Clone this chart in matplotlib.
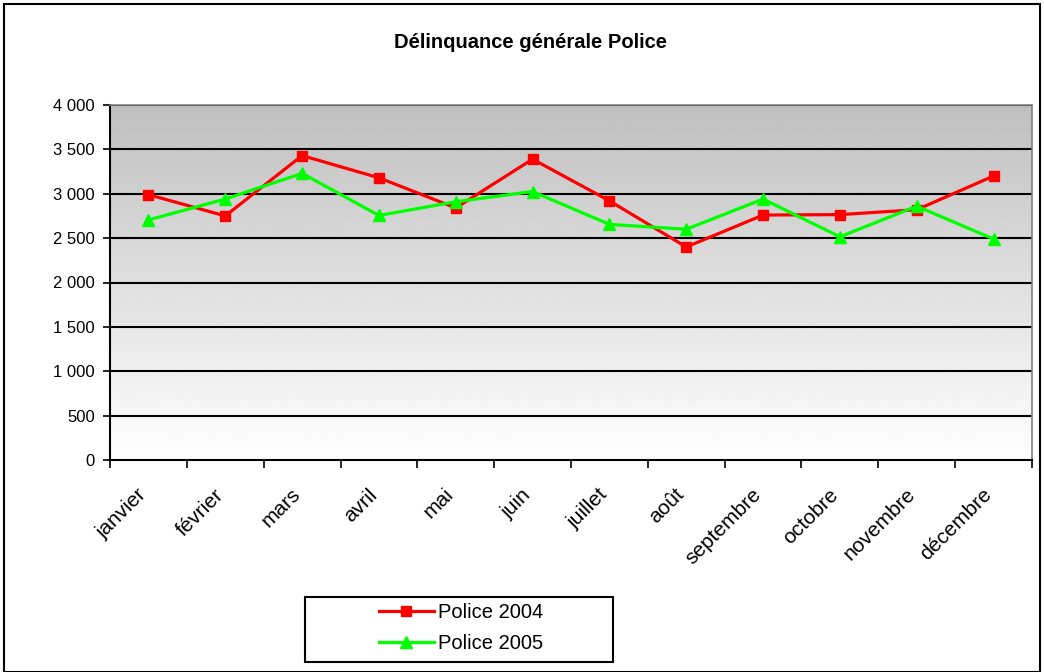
import numpy as np
import matplotlib
matplotlib.use("Agg")
import matplotlib.pyplot as plt
from matplotlib.patches import Rectangle
from matplotlib.ticker import FuncFormatter

months = ["janvier", "février", "mars", "avril", "mai", "juin", "juillet",
          "août", "septembre", "octobre", "novembre", "décembre"]
police_2004 = [2990, 2750, 3430, 3180, 2840, 3390, 2920, 2400, 2760, 2765, 2820, 3200]
police_2005 = [2705, 2940, 3230, 2755, 2910, 3025, 2655, 2600, 2940, 2515, 2860, 2490]
y_ticks = [0, 500, 1000, 1500, 2000, 2500, 3000, 3500, 4000]

plt.rcParams['font.family'] = ['Liberation Sans', 'DejaVu Sans']

fig = plt.figure(figsize=(10.44, 6.72), dpi=100)
ax = fig.add_axes([110 / 1044, 1 - 460 / 672, 922 / 1044, 355 / 672])

x = np.arange(len(months))
ax.set_xlim(-0.5, len(months) - 0.5)
ax.set_ylim(0, 4000)

# gradient background, grey at top, white at bottom
grad = np.linspace(1.0, 0.75, 256).reshape(-1, 1)
ax.imshow(grad, cmap="gray", vmin=0, vmax=1, aspect="auto",
          extent=(-0.5, len(months) - 0.5, 0, 4000), origin="lower", zorder=0)

for v in y_ticks[1:]:
    ax.axhline(v, color="black", lw=1.5, zorder=1)

ax.plot(x, police_2004, color="#ff0000", lw=2.3, marker="s", markersize=7.5,
        label="Police 2004", zorder=3)
ax.plot(x, police_2005, color="#00ff00", lw=2.3, marker="^", markersize=8,
        label="Police 2005", zorder=3)

ax.set_yticks(y_ticks)
ax.yaxis.set_major_formatter(FuncFormatter(lambda v, p: f"{int(v):,}".replace(",", " ")))
ax.tick_params(axis="y", labelsize=12, length=5, width=1.2, direction="out", pad=6)

ax.set_xticks(np.arange(-0.5, len(months), 1.0))
ax.set_xticklabels([])
ax.tick_params(axis="x", which="major", length=6, width=1.2, direction="out")
ax.set_xticks(x - 0.15, minor=True)
ax.set_xticklabels(months, minor=True, rotation=45, ha="right", va="top",
                   rotation_mode="anchor", fontsize=15)
ax.tick_params(axis="x", which="minor", length=0, pad=18)

for side in ["left", "bottom"]:
    ax.spines[side].set_color("black")
    ax.spines[side].set_linewidth(1.5)
for side in ["top", "right"]:
    ax.spines[side].set_color("#808080")
    ax.spines[side].set_linewidth(1.2)

fig.text(531 / 1044, 1 - 42 / 672, "Délinquance générale Police", ha="center",
         va="center", fontsize=14.5, fontweight="bold")

leg = fig.legend(loc="center", bbox_to_anchor=(461 / 1044, 1 - 628 / 672),
                 fontsize=14.5, frameon=False, handlelength=2.7, handletextpad=0.2,
                 labelspacing=0.6)
fig.patches.append(Rectangle((305 / 1044, 1 - 662 / 672), 308 / 1044, 65 / 672,
                             transform=fig.transFigure, fill=False,
                             edgecolor="black", lw=1.5))

fig.patches.append(Rectangle((4 / 1044, 0), 1036 / 1044, 1 - 4 / 672, transform=fig.transFigure,
                             fill=False, edgecolor="black", lw=1.5))

plt.savefig("out.png", dpi=100)
